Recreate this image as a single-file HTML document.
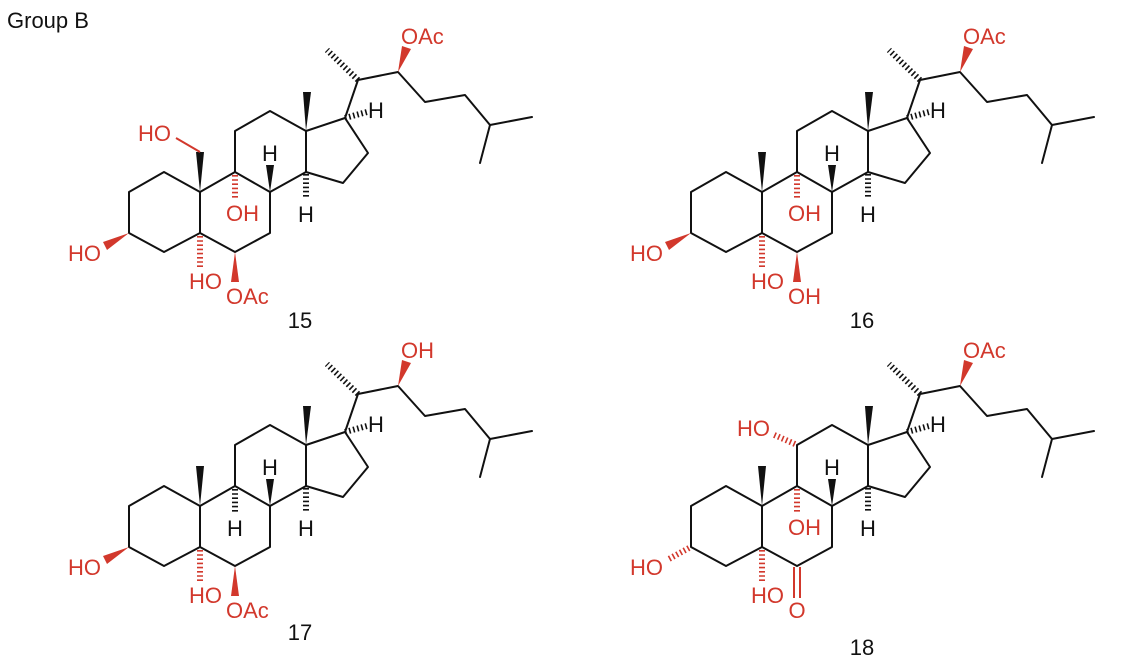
<!DOCTYPE html>
<html><head><meta charset="utf-8"><style>
html,body{margin:0;padding:0;background:#fff;}
svg{display:block;}
text{font-family:"Liberation Sans",Arial,sans-serif;font-size:22px;}
.r{fill:#d2382c;}
.k{fill:#111;}
</style></head><body>
<svg width="1126" height="660" viewBox="0 0 1126 660" xmlns="http://www.w3.org/2000/svg">
<defs>
<g id="core">
<g fill="none" stroke="#111" stroke-width="2" stroke-linejoin="round" stroke-linecap="round">
<polygon points="164,172 129,192 129,233 164,252 200,233 200,192"/>
<polyline points="200,192 235,172 270,192 270,233 235,252 200,233"/>
<polyline points="235,172 235,131 270,111 306,131 306,172 270,192"/>
<polyline points="306,131 345,118 368,153 343,183 306,172"/>
<polyline points="345,118 358,80 398,72 425,102 465,95 490,125 532,117"/>
<line x1="490" y1="125" x2="480" y2="163"/>
<line x1="358" y1="80" x2="327" y2="50" stroke-width="6" stroke-dasharray="1.6 2.6" stroke-linecap="butt"/>
<line x1="345" y1="118" x2="367" y2="112" stroke-width="6" stroke-dasharray="1.6 2.6" stroke-linecap="butt"/>
<line x1="306" y1="174" x2="306" y2="198" stroke-width="6" stroke-dasharray="1.6 2.6" stroke-linecap="butt"/>
</g>
<polygon points="306,131 303,92 311,92" fill="#111"/>
<polygon points="270,192 266,165 274,165" fill="#111"/>
<text x="270" y="161" class="k" text-anchor="middle">H</text>
<text x="368" y="118" class="k">H</text>
<text x="306" y="222" class="k" text-anchor="middle">H</text>
</g>
<polygon id="wup" points="398,72 402,46 411,49" fill="#d2382c"/>
<polygon id="w3" points="129,233 103,242 107,250" fill="#d2382c"/>
<polygon id="me10" points="200,192 196,152 204,152" fill="#111"/>
<line id="h5" x1="200" y1="236" x2="200" y2="268" stroke="#d2382c" stroke-width="6" stroke-dasharray="1.6 2.6"/>
<line id="h9" x1="235" y1="175" x2="235" y2="200" stroke="#d2382c" stroke-width="6" stroke-dasharray="1.6 2.6"/>
<polygon id="w6" points="235,252 231,282 239,282" fill="#d2382c"/>
</defs>

<text x="7" y="28" class="k">Group B</text>

<g>
<use href="#core"/>
<use href="#wup"/>
<text x="401" y="44" class="r">OAc</text>
<use href="#me10"/>
<line x1="200" y1="152" x2="176" y2="138" stroke="#d2382c" stroke-width="2"/>
<text x="138" y="141" class="r">HO</text>
<use href="#h9"/>
<text x="226" y="221" class="r">OH</text>
<use href="#w3"/>
<text x="68" y="261" class="r">HO</text>
<use href="#h5"/>
<text x="189" y="289" class="r">HO</text>
<use href="#w6"/>
<text x="226" y="304" class="r">OAc</text>
<text x="300" y="328" class="k" text-anchor="middle">15</text>
</g>

<g transform="translate(562,0)">
<use href="#core"/>
<use href="#wup"/>
<text x="401" y="44" class="r">OAc</text>
<use href="#me10"/>
<use href="#h9"/>
<text x="226" y="221" class="r">OH</text>
<use href="#w3"/>
<text x="68" y="261" class="r">HO</text>
<use href="#h5"/>
<text x="189" y="289" class="r">HO</text>
<use href="#w6"/>
<text x="226" y="304" class="r">OH</text>
<text x="300" y="328" class="k" text-anchor="middle">16</text>
</g>

<g transform="translate(0,314)">
<use href="#core"/>
<use href="#wup"/>
<text x="401" y="44" class="r">OH</text>
<use href="#me10"/>
<line x1="235" y1="175" x2="235" y2="200" stroke="#111" stroke-width="6" stroke-dasharray="1.6 2.6"/>
<text x="235" y="222" class="k" text-anchor="middle">H</text>
<use href="#w3"/>
<text x="68" y="261" class="r">HO</text>
<use href="#h5"/>
<text x="189" y="289" class="r">HO</text>
<use href="#w6"/>
<text x="226" y="304" class="r">OAc</text>
<text x="300" y="326" class="k" text-anchor="middle">17</text>
</g>

<g transform="translate(562,314)">
<use href="#core"/>
<use href="#wup"/>
<text x="401" y="44" class="r">OAc</text>
<use href="#me10"/>
<use href="#h9"/>
<text x="226" y="221" class="r">OH</text>
<line x1="233" y1="130" x2="210" y2="120" stroke="#d2382c" stroke-width="6" stroke-dasharray="1.6 2.6"/>
<text x="208" y="122" class="r" text-anchor="end">HO</text>
<line x1="127" y1="234" x2="105" y2="246" stroke="#d2382c" stroke-width="6" stroke-dasharray="1.6 2.6"/>
<text x="68" y="261" class="r">HO</text>
<use href="#h5"/>
<text x="189" y="289" class="r">HO</text>
<line x1="232" y1="253" x2="232" y2="284" stroke="#d2382c" stroke-width="2"/>
<line x1="238" y1="253" x2="238" y2="284" stroke="#d2382c" stroke-width="2"/>
<text x="235" y="304" class="r" text-anchor="middle">O</text>
<text x="300" y="341" class="k" text-anchor="middle">18</text>
</g>
</svg>
</body></html>
